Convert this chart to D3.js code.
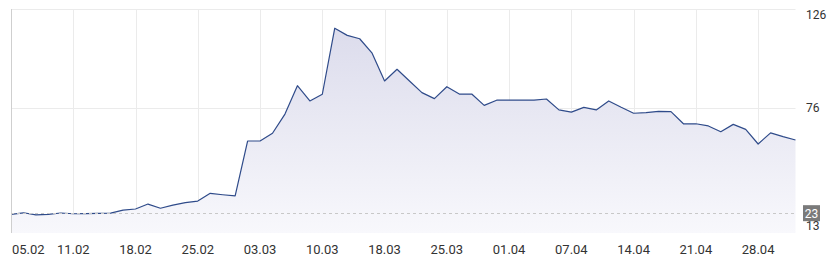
<!DOCTYPE html>
<html>
<head>
<meta charset="utf-8">
<script src="https://cdn.jsdelivr.net/npm/d3@7"></script>
<style>
  body { margin: 0; background: #fff; }
  text { font-family: Roboto, "Noto Sans", sans-serif; }
</style>
</head>
<body>
<div id="app"></div>
<script>
// daily values, one per trading point
const values = [
  22.4, 23.2, 22.1, 22.4, 23.1, 22.7, 22.8, 22.9, 23.0, 24.5,
  25.1, 27.6, 25.5, 27.1, 28.3, 29.1, 33.0, 32.3, 31.7, 59.4,
  59.4, 63.3, 73.0, 87.3, 79.6, 83.0, 116.3, 112.7, 111.0, 103.7,
  89.7, 95.6, 89.7, 83.8, 80.8, 86.8, 83.1, 83.1, 77.4, 80.0,
  80.0, 80.0, 80.0, 80.6, 75.1, 74.0, 76.4, 75.1, 79.6, 76.4,
  73.4, 73.7, 74.4, 74.2, 68.1, 68.1, 67.0, 64.1, 67.8, 65.3,
  57.9, 63.5, 61.6, 59.9
]

// x tick labels and the point index they sit on
const tickLabels = ['05.02', '11.02', '18.02', '25.02', '03.03', '10.03', '18.03',
  '25.03', '01.04', '07.04', '14.04', '21.04', '28.04']
const tickIndex = [0, 5, 10, 15, 20, 25, 30, 35, 40, 45, 50, 55, 60]

// y axis labels
const yTicks = [126, 76, 13]
const refValue = 23

const width = 836, height = 263
const m = { left: 11, right: 795.5, top: 9, bottom: 233 }

const svg = d3.select('#app').append('svg')
  .attr('width', width)
  .attr('height', height)
  .style('display', 'block')

const x = d3.scaleLinear().domain([0, values.length - 1]).range([m.left, m.right])
const y = d3.scaleLinear().domain([13, 126]).range([m.bottom, m.top])

// gradient for the area
const grad = svg.append('defs').append('linearGradient')
  .attr('id', 'fill').attr('x1', 0).attr('y1', 0).attr('x2', 0).attr('y2', 1)
grad.append('stop').attr('offset', '0%').attr('stop-color', '#dcdcec')
grad.append('stop').attr('offset', '100%').attr('stop-color', '#f8f8fc')

// grid
const grid = svg.append('g')
grid.selectAll('line.v').data(tickIndex.slice(1)).join('line')
  .attr('class', 'v')
  .attr('x1', (d) => Math.round(x(d)) + 0.5).attr('x2', (d) => Math.round(x(d)) + 0.5)
  .attr('y1', m.top).attr('y2', m.bottom)
  .attr('stroke', '#ebebeb')
grid.selectAll('line.h').data(yTicks.slice(0, 2)).join('line')
  .attr('class', 'h')
  .attr('x1', m.left).attr('x2', m.right)
  .attr('y1', (d) => Math.round(y(d)) + 0.5).attr('y2', (d) => Math.round(y(d)) + 0.5)
  .attr('stroke', '#ebebeb')

// area + line
const area = d3.area().x((d, i) => x(i)).y0(m.bottom).y1((d) => y(d))
svg.append('path').datum(values).attr('d', area).attr('fill', 'url(#fill)')

const line = d3.line().x((d, i) => x(i)).y((d) => y(d))
svg.append('path').datum(values).attr('d', line)
  .attr('fill', 'none').attr('stroke', '#2f4b8a').attr('stroke-width', 1.2)
  .attr('stroke-linejoin', 'round')

// left border
svg.append('line')
  .attr('x1', m.left + 0.5).attr('x2', m.left + 0.5).attr('y1', m.top).attr('y2', m.bottom)
  .attr('stroke', '#cfcfcf')

// dashed reference line
svg.append('line')
  .attr('x1', m.left).attr('x2', m.right)
  .attr('y1', Math.round(y(refValue)) + 0.5).attr('y2', Math.round(y(refValue)) + 0.5)
  .attr('stroke', '#c8c8c8').attr('stroke-dasharray', '3,3')

// x labels
svg.append('g').selectAll('text').data(tickIndex).join('text')
  .attr('x', (d, i) => i === 0 ? m.left + 1 : x(d))
  .attr('y', 254)
  .attr('text-anchor', (d, i) => i === 0 ? 'start' : 'middle')
  .attr('font-size', 13)
  .attr('fill', '#333')
  .text((d, i) => tickLabels[i])

// y labels, nudged to stay inside the plot band
const yOffset = { 126: 10, 76: 4, 13: -3 }
svg.append('g').selectAll('text').data(yTicks).join('text')
  .attr('x', 806)
  .attr('y', (d) => y(d) + yOffset[d])
  .attr('font-size', 12)
  .attr('fill', '#333')
  .text((d) => d)

// current value badge
const badge = svg.append('g')
badge.append('rect')
  .attr('x', 803).attr('y', y(refValue) - 8).attr('width', 17).attr('height', 16)
  .attr('fill', '#7a7a7a')
badge.append('text')
  .attr('x', 811.5).attr('y', y(refValue) + 4.5)
  .attr('text-anchor', 'middle')
  .attr('font-size', 12)
  .attr('fill', '#fff')
  .text(refValue)
</script>
</body>
</html>
